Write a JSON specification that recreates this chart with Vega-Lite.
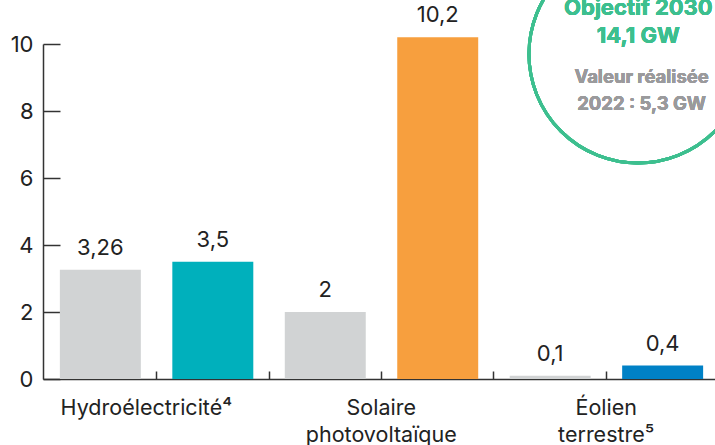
{
  "$schema": "https://vega.github.io/schema/vega-lite/v6.json",
  "width": 677,
  "height": 335,
  "autosize": "none",
  "padding": {"left": 43, "top": 44, "right": 0, "bottom": 66},
  "background": "white",
  "config": {
    "view": {"stroke": null},
    "font": "Inter",
    "axis": {"labelFont": "Inter", "labelColor": "#222222", "domainColor": "#333333", "tickColor": "#333333", "grid": false, "title": null}
  },
  "data": {
    "values": [
      {"barre": "Hydroélectricité 2022", "valeur": 3.26, "etiquette": "3,26"},
      {"barre": "Hydroélectricité 2030", "valeur": 3.5, "etiquette": "3,5"},
      {"barre": "Solaire 2022", "valeur": 2, "etiquette": "2"},
      {"barre": "Solaire 2030", "valeur": 10.2, "etiquette": "10,2"},
      {"barre": "Éolien 2022", "valeur": 0.1, "etiquette": "0,1"},
      {"barre": "Éolien 2030", "valeur": 0.4, "etiquette": "0,4"}
    ]
  },
  "encoding": {
    "x": {
      "field": "barre",
      "type": "nominal",
      "sort": null,
      "scale": {"paddingInner": 0.28, "paddingOuter": 0.15},
      "axis": {
        "bandPosition": 1.194,
        "labelAngle": 0,
        "labelFontSize": 21.5,
        "labelLineHeight": 27,
        "labelPadding": 26,
        "labelOffset": {"condition": {"test": "datum.value == 'Hydroélectricité 2022'", "value": 46}, "value": 56},
        "tickSize": -8,
        "tickWidth": 1.5,
        "domainWidth": 1.5,
        "labelExpr": "datum.value == 'Hydroélectricité 2022' ? 'Hydroélectricité⁴' : datum.value == 'Solaire 2022' ? ['Solaire', 'photovoltaïque'] : datum.value == 'Éolien 2022' ? ['Éolien', 'terrestre⁵'] : ''"
      }
    },
    "y": {
      "field": "valeur",
      "type": "quantitative",
      "scale": {"domain": [0, 10], "nice": false},
      "axis": {"values": [0, 2, 4, 6, 8, 10], "labelFontSize": 22, "tickSize": -17, "labelPadding": 27, "tickWidth": 1.5, "domainWidth": 1.5}
    }
  },
  "layer": [
    {
      "mark": {"type": "bar"},
      "encoding": {
        "color": {
          "field": "barre",
          "type": "nominal",
          "scale": {
            "domain": ["Hydroélectricité 2022", "Hydroélectricité 2030", "Solaire 2022", "Solaire 2030", "Éolien 2022", "Éolien 2030"],
            "range": ["#d1d3d4", "#00b0bc", "#d1d3d4", "#f79f3e", "#d1d3d4", "#0081c6"]
          },
          "legend": null
        }
      }
    },
    {
      "mark": {"type": "text", "baseline": "alphabetic", "dy": -15, "fontSize": 22, "color": "#222222"},
      "encoding": {"text": {"field": "etiquette"}}
    },
    {
      "mark": {"type": "point", "shape": "circle", "filled": false, "size": 47524, "stroke": "#3dbf8f", "strokeWidth": 3, "opacity": 1},
      "encoding": {
        "x": {"datum": "Éolien 2030", "bandPosition": 0.195},
        "y": {"datum": 9.7}
      }
    },
    {
      "mark": {"type": "text", "text": ["Objectif 2030", "14,1 GW"], "lineHeight": 28, "baseline": "alphabetic", "fontSize": 22, "fontWeight": "bold", "color": "#3dbf8f"},
      "encoding": {
        "x": {"datum": "Éolien 2030", "bandPosition": 0.2},
        "y": {"datum": 10.87}
      }
    },
    {
      "mark": {"type": "text", "text": ["Valeur réalisée", "2022 : 5,3 GW"], "lineHeight": 27, "baseline": "alphabetic", "fontSize": 18.5, "fontWeight": "bold", "color": "#9a9a9c"},
      "encoding": {
        "x": {"datum": "Éolien 2030", "bandPosition": 0.24},
        "y": {"datum": 8.84}
      }
    }
  ]
}
